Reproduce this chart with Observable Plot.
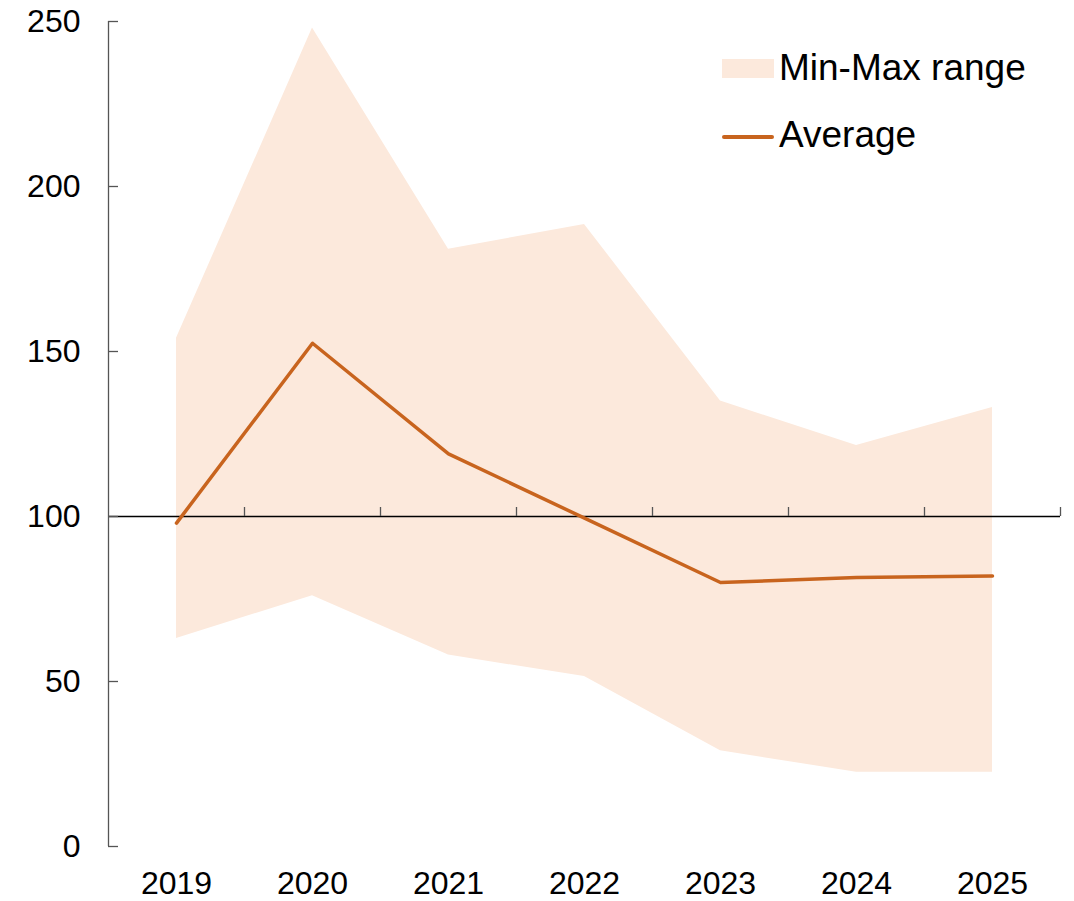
<!DOCTYPE html>
<html>
<head>
<meta charset="utf-8">
<script src="https://cdn.jsdelivr.net/npm/d3@7"></script>
<script src="https://cdn.jsdelivr.net/npm/@observablehq/plot@0.6"></script>
<style>
  body { margin: 0; background: #fff; font-family: "Liberation Sans", Arial, sans-serif; }
  #wrap { position: relative; width: 1074px; height: 901px; }
  .leg { position: absolute; font-size: 37px; color: #000; line-height: 1; white-space: nowrap; }
  .sw { position: absolute; }
</style>
</head>
<body>
<div id="wrap"></div>
<script>
const years = [2019, 2020, 2021, 2022, 2023, 2024, 2025];
const maxVals = [154, 248, 181, 188.5, 135, 121.5, 133];
const minVals = [63, 76, 58, 51.5, 29, 22.5, 22.5];
const avgVals = [98, 152.5, 119, 99.5, 80, 81.5, 82];
const yTicks = [0, 50, 100, 150, 200, 250];
const legendLabels = ["Min-Max range", "Average"];

const data = years.map((y, i) => ({year: y, min: minVals[i], max: maxVals[i], avg: avgVals[i]}));
const boundaries = years.map(y => y + 0.5);
const xLo = years[0] - 0.5, xHi = years[years.length - 1] + 0.5;

const fillColor = "#fce9dc";
const lineColor = "#c8641e";

const chart = Plot.plot({
  width: 1074,
  height: 901,
  marginLeft: 108,
  marginRight: 14,
  marginTop: 21,
  marginBottom: 55,
  style: {fontFamily: "'Liberation Sans', Arial, sans-serif", fontSize: "32px", color: "#000", background: "#fff"},
  x: {domain: [xLo, xHi]},
  y: {domain: [0, 250]},
  marks: [
    Plot.areaY(data, {x: "year", y1: "min", y2: "max", fill: fillColor}),
    Plot.ruleY([100], {x1: xLo, x2: xHi, stroke: "#000", strokeWidth: 1.3}),
    Plot.ruleX(boundaries, {x: d => d, y1: 100, y2: 100, insetTop: -9, stroke: "#555", strokeWidth: 1.3}),
    Plot.ruleX([xLo], {y1: 0, y2: 250, stroke: "#555", strokeWidth: 1.3}),
    Plot.ruleY(yTicks, {y: d => d, x1: xLo, x2: xLo, insetRight: -10, stroke: "#555", strokeWidth: 1.3}),
    Plot.lineY(data, {x: "year", y: "avg", stroke: lineColor, strokeWidth: 3.5}),
    Plot.axisY({ticks: yTicks, tickSize: 0, tickPadding: 28, fontSize: 32, label: null, tickFormat: d => String(d)}),
    Plot.axisX({ticks: years, tickSize: 0, tickPadding: 25, fontSize: 32, label: null, tickFormat: d => String(d)})
  ]
});

const wrap = document.getElementById("wrap");
wrap.appendChild(chart);

// Legend
const sw1 = document.createElement("div");
sw1.className = "sw";
Object.assign(sw1.style, {left: "722px", top: "59px", width: "52px", height: "19px", background: fillColor});
wrap.appendChild(sw1);
const t1 = document.createElement("div");
t1.className = "leg";
t1.textContent = legendLabels[0];
Object.assign(t1.style, {left: "779px", top: "49px"});
wrap.appendChild(t1);

const sw2 = document.createElement("div");
sw2.className = "sw";
Object.assign(sw2.style, {left: "722px", top: "135px", width: "52px", height: "4px", background: lineColor, borderRadius: "2px"});
wrap.appendChild(sw2);
const t2 = document.createElement("div");
t2.className = "leg";
t2.textContent = legendLabels[1];
Object.assign(t2.style, {left: "779px", top: "116px"});
wrap.appendChild(t2);
</script>
</body>
</html>
